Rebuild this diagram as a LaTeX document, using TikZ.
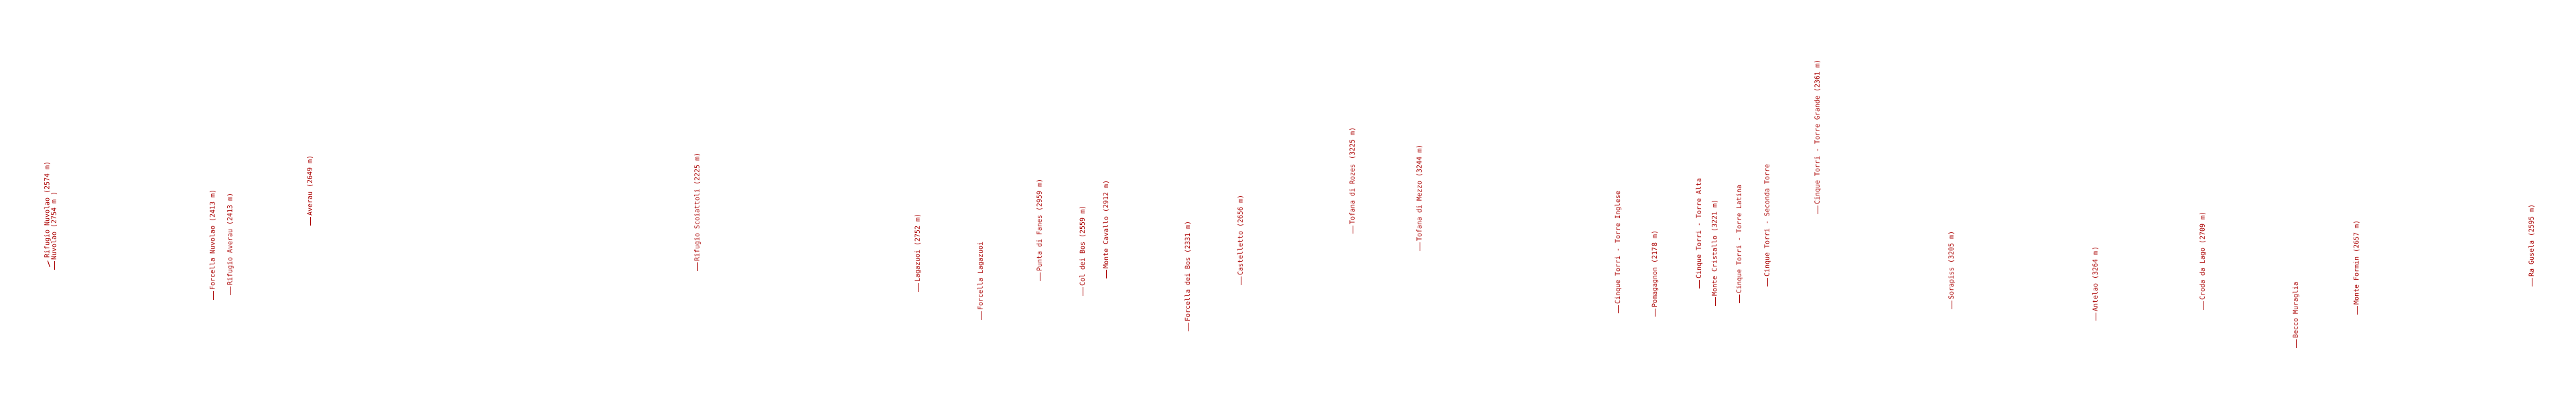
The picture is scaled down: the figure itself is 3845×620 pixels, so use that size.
\documentclass[tikz,border=0pt]{standalone}
\usepackage{fontspec}
\newfontfamily\labelfont{DejaVu Sans Mono}
\definecolor{labelred}{RGB}{170,0,0}
\tikzset{
  peaklabel/.style={rotate=90, anchor=base west, inner sep=0pt, outer sep=0pt,
    text=labelred, font=\labelfont\fontsize{10}{10}\selectfont},
  leader/.style={draw=labelred, line width=1pt}
}
\begin{document}
\begin{tikzpicture}[x=1pt,y=1pt]
\useasboundingbox (0,0) rectangle (3845,620);
\foreach \i/\x/\y/\t in {
  2/81.3/402.7/{Nuvolao (2754 m )},
  3/318/448/{Forcella Nuvolao (2413 m)},
  4/344/440.7/{Rifugio Averau (2413 m)},
  5/463.3/336.7/{Averau (2649 m)},
  6/1041.3/405/{Rifugio Scoiattoli (2225 m)},
  7/1370.3/436/{Lagazuoi (2752 m)},
  8/1464.3/477.7/{Forcella Lagazuoi},
  9/1552.3/420/{Punta di Fanes (2959 m)},
  10/1616.7/441.7/{Col dei Bos (2559 m)},
  11/1651.7/415.7/{Monte Cavallo (2912 m)},
  12/1773.7/495/{Forcella dei Bos (2331 m)},
  13/1852.3/426/{Castelletto (2656 m)},
  14/2019.3/349.3/{Tofana di Rozes (3225 m)},
  15/2119.3/375/{Tofana di Mezzo (3244 m)},
  16/2415.7/468.3/{Cinque Torri - Torre Inglese},
  17/2470.7/473.3/{Pomagagnon (2178 m)},
  18/2536.7/430.7/{Cinque Torri - Torre Alta},
  19/2560/456.7/{Monte Cristallo (3221 m)},
  20/2596.7/452.7/{Cinque Torri - Torre Latina},
  21/2638.3/427.7/{Cinque Torri - Seconda Torre},
  22/2713.3/320/{Cinque Torri - Torre Grande (2361 m)},
  23/2913.3/461.7/{Sorapiss (3205 m)},
  24/3128.3/479.3/{Antelao (3264 m)},
  25/3288.3/462.7/{Croda da Lago (2709 m)},
  26/3427.3/520/{Becco Muraglia},
  27/3518/470/{Monte Formin (2657 m)},
  28/3779.3/427.7/{Ra Gusela (2595 m)}} {
  \coordinate (p\i) at (\x, 620-\y);
  \node[peaklabel] (l\i) at ([shift={(2.5,14)}]p\i) {\t};
  \draw[leader] (p\i) -- ++(0,12.5);
}
% slanted leader for Rifugio Nuvolao
\coordinate (p1) at (74.5, 620-399);
\node[peaklabel] (l1) at (73.5, 620-386) {Rifugio Nuvolao (2574 m)};
\draw[leader] (p1) -- (71.2, 620-389.5);
\end{tikzpicture}
\end{document}
